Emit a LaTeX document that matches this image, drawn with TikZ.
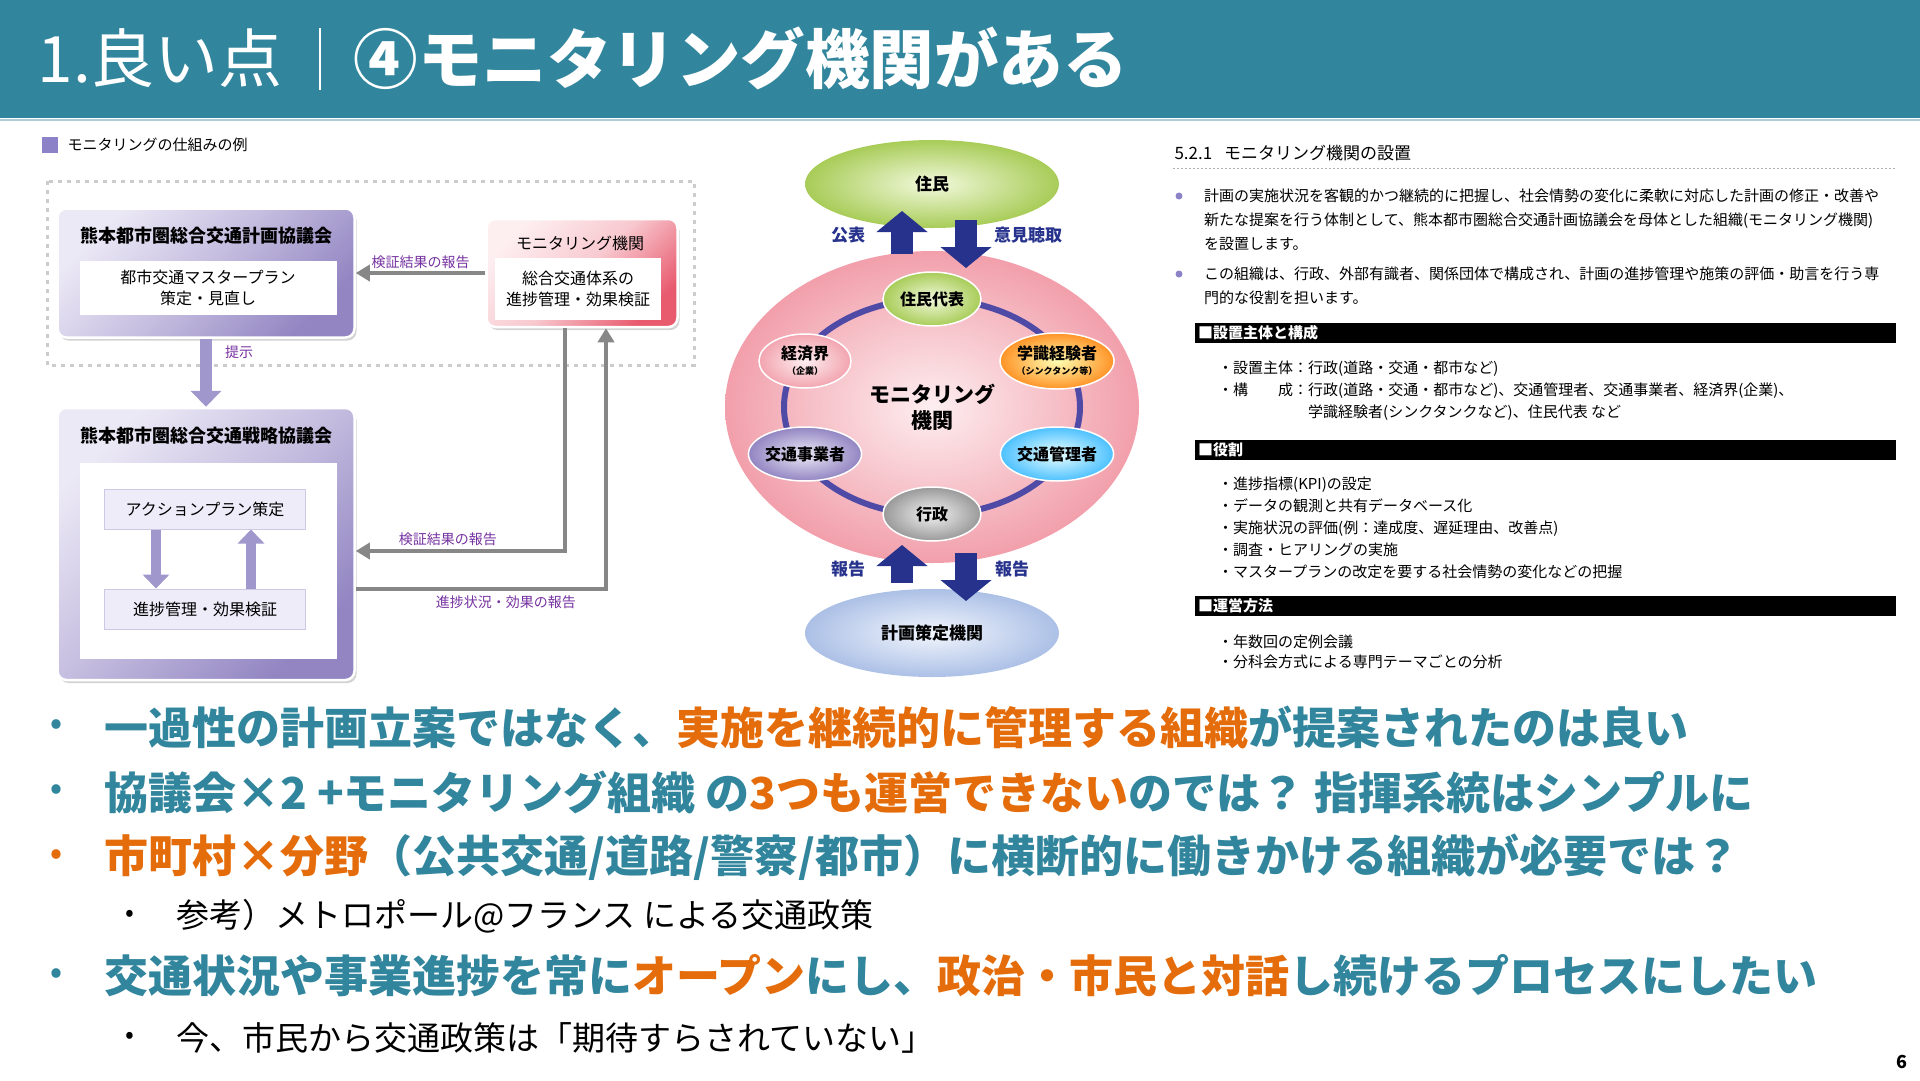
\documentclass[tikz,border=0pt]{standalone}
\usepackage{fontspec}
\setmainfont{Noto Sans CJK JP}
\usetikzlibrary{arrows.meta,shapes.geometric,shadows,positioning}

\definecolor{headteal}{RGB}{49,133,156}
\definecolor{hiorange}{RGB}{228,108,10}
\definecolor{lavlight}{RGB}{236,233,246}
\definecolor{lavdark}{RGB}{146,133,194}
\definecolor{lavarrow}{RGB}{160,152,204}
\definecolor{lavsub}{RGB}{238,236,248}
\definecolor{pinklight}{RGB}{253,238,240}
\definecolor{pinkdark}{RGB}{232,90,110}
\definecolor{labpurple}{RGB}{118,50,160}
\definecolor{navyarrow}{RGB}{38,50,140}
\definecolor{ringblue}{RGB}{78,74,165}
\definecolor{dotpurple}{RGB}{140,130,200}
\definecolor{connectgray}{RGB}{135,135,135}
\definecolor{leafdark}{RGB}{168,204,88}
\definecolor{leaflight}{RGB}{242,249,220}
\definecolor{skydark}{RGB}{172,192,230}
\definecolor{skylight}{RGB}{242,246,253}

\newcommand{\pxsize}[2]{\fontsize{#1}{#2}\selectfont}
\newcommand{\orng}[1]{{\color{hiorange}#1}}

\begin{document}
\begin{tikzpicture}[x=1pt,y=-1pt,
  council/.style={draw=white, line width=2.5pt, rounded corners=9pt,
    top color=lavlight, bottom color=lavdark, middle color=lavlight!55!lavdark, shading angle=45,
    drop shadow={shadow xshift=2pt, shadow yshift=-3pt, opacity=0.35}},
  monitorbox/.style={draw=white, line width=2.5pt, rounded corners=9pt,
    top color=pinklight, bottom color=pinkdark, middle color=pinklight!75!pinkdark, shading angle=45,
    drop shadow={shadow xshift=2pt, shadow yshift=-3pt, opacity=0.35}},
  counciltitle/.style={font=\pxsize{18}{20}\bfseries, inner sep=0pt},
  whitebox/.style={fill=white, align=center, inner sep=0pt, font=\pxsize{16}{21}},
  subbox/.style={fill=lavsub, draw=lavdark!45, line width=1pt, minimum width=201pt, minimum height=40pt, font=\pxsize{16}{20}},
  labtext/.style={text=labpurple, font=\pxsize{14}{16}, inner sep=1pt},
  grayarrow/.style={connectgray, line width=3.5pt, -{Triangle[length=14pt,width=16pt]}},
  lavblock/.style={lavarrow, line width=12pt, -{Triangle[length=16pt,width=30pt]}},
  lavblocksmall/.style={lavarrow, line width=10pt, -{Triangle[length=14pt,width=26pt]}},
  navyblock/.style={navyarrow, line width=22pt, -{Triangle[length=21pt,width=50pt]}},
  navylabel/.style={text=navyarrow, font=\pxsize{17}{19}\bfseries},
  member/.style={ellipse, draw=white, line width=1.5pt, minimum width=98pt, minimum height=54pt,
    inner sep=0pt, align=center, font=\pxsize{16}{17}\bfseries},
  para/.style={anchor=west, align=left, inner sep=0pt, font=\pxsize{15}{24}},
  items/.style={anchor=west, align=left, inner sep=0pt, font=\pxsize{15}{22}},
  blackbar/.style={anchor=west, fill=black, text=white, text width=695pt, align=left,
    minimum height=20pt, inner sep=3pt, font=\pxsize{15}{17}\bfseries},
  bigline/.style={anchor=west, inner sep=0pt, text=headteal, font=\pxsize{44}{50}\bfseries},
  subline/.style={anchor=west, inner sep=0pt, font=\pxsize{33}{38}},
  bigdot/.style={inner sep=0pt, font=\pxsize{30}{30}\bfseries}
]
\useasboundingbox (0,0) rectangle (1920,1080);

% title bar
\fill[headteal] (0,0) rectangle (1920,118);
\draw[headteal!40, line width=2pt] (0,120) -- (1920,120);
\draw (34,58) node [anchor=west, text=white, font=\pxsize{64}{70}] (ttlA) {1.良い点};
\draw[white, line width=1.5pt] (320,28) -- (320,90);
\draw (350,58) node [anchor=west, text=white, font=\pxsize{64.5}{70}\bfseries] (ttlB) {④モニタリング機関がある};

% left: monitoring scheme
\fill[dotpurple] (42,137) rectangle (58,153);
\draw (64,145) node [anchor=west, font=\pxsize{15}{17}] (caption) {モニタリングの仕組みの例};
\draw[gray!40, line width=3pt, dash pattern=on 4pt off 5pt] (47,181) rectangle (694,365);

\draw (206,273) node [council, minimum width=297pt, minimum height=129pt] (keikaku) {};
\draw (206,236) node [counciltitle] (keikakuT) {熊本都市圏総合交通計画協議会};
\draw (208,288) node [whitebox, minimum width=257pt, minimum height=54pt] (plan) {都市交通マスタープラン\\策定・見直し};

\draw (582,273) node [monitorbox, minimum width=191pt, minimum height=108pt] (monitor) {};
\draw (580,243) node [font=\pxsize{16}{18}] (monitorT) {モニタリング機関};
\draw (578,289) node [whitebox, minimum width=166pt, minimum height=62pt] (check) {総合交通体系の\\進捗管理・効果検証};

\draw (206,544) node [council, minimum width=297pt, minimum height=272pt] (senryaku) {};
\draw (206,436) node [counciltitle] (senryakuT) {熊本都市圏総合交通戦略協議会};
\draw (208,561) node [whitebox, minimum width=257pt, minimum height=196pt] (cycle) {};
\draw (205,509) node [subbox] (action) {アクションプラン策定};
\draw (205,609) node [subbox] (progress) {進捗管理・効果検証};

\coordinate (m1) at (565,551);
\coordinate (m2) at (606,589);
\coordinate (a1) at (156,0);
\coordinate (a2) at (251,0);

\draw
  (monitor.west) edge [grayarrow] node [above=2pt, labtext] {検証結果の報告} (keikaku.east)
  (keikaku.south) edge [lavblock] node [right=12pt, pos=0.2, labtext] {提示} (senryaku.north)
  (action.south -| a1) edge [lavblocksmall] (progress.north -| a1)
  (progress.north -| a2) edge [lavblocksmall] (action.south -| a2)
;
\draw[grayarrow] (monitor.south -| m1) |- node [pos=0.78, above=3pt, labtext] {検証結果の報告} (senryaku.east |- m1);
\draw[grayarrow] (senryaku.east |- m2) -| node [pos=0.3, below=4pt, labtext] {進捗状況・効果の報告} (monitor.south -| m2);

% middle: members of the monitoring body
\draw (932,407) node [ellipse, minimum width=414pt, minimum height=312pt, inner color=pinklight, outer color=pinkdark!58,
  align=center, font=\pxsize{21}{26}\bfseries] (kikan) {モニタリング\\機関};
\draw[ringblue, line width=6pt] (kikan.center) ellipse [x radius=148pt, y radius=108pt];

\draw (932,184) node [ellipse, minimum width=254pt, minimum height=88pt, inner color=leaflight, outer color=leafdark,
  font=\pxsize{17}{19}\bfseries] (jumin) {住民};
\draw (932,633) node [ellipse, minimum width=254pt, minimum height=88pt, inner color=skylight, outer color=skydark,
  font=\pxsize{17}{19}\bfseries] (sakutei) {計画策定機関};

\draw (932,299) node [member, inner color=leaflight, outer color=leafdark] (daihyo) {住民代表};
\draw (805,361) node [member, minimum width=92pt, inner color=pinklight, outer color=pinkdark!55] (keizai) {経済界\\[-2pt]{\pxsize{9}{10}（企業）}};
\draw (1057,361) node [member, minimum width=106pt, minimum height=56pt, inner color=yellow!30!white, outer color=orange!85] (gakushiki) {学識経験者\\[-2pt]{\pxsize{9}{10}（シンクタンク等）}};
\draw (805,454) node [member, minimum width=102pt, inner color=lavlight, outer color=lavdark] (jigyo) {交通事業者};
\draw (1057,454) node [member, minimum width=102pt, inner color=cyan!8!white, outer color=cyan!65!blue!70] (kanri) {交通管理者};
\draw (932,514) node [member, inner color=gray!10, outer color=gray!80] (gyosei) {行政};

\coordinate (kohyoA) at (902,254);
\coordinate (kohyoB) at (902,211);
\coordinate (ikenA) at (966,220);
\coordinate (ikenB) at (966,268);
\coordinate (hokokuA) at (902,583);
\coordinate (hokokuB) at (902,545);
\coordinate (hokokuC) at (966,553);
\coordinate (hokokuD) at (966,601);
\draw
  (kohyoA) edge [navyblock] (kohyoB)
  (ikenA) edge [navyblock] (ikenB)
  (hokokuA) edge [navyblock] (hokokuB)
  (hokokuC) edge [navyblock] (hokokuD)
;
\draw (848,235) node [navylabel] (kohyoL) {公表};
\draw (1028,235) node [navylabel] (ikenL) {意見聴取};
\draw (848,569) node [navylabel] (hokokuL) {報告};
\draw (1012,569) node [navylabel] (hokokuR) {報告};

% right: excerpt of the plan
\draw (1171,153) node [anchor=west, font=\pxsize{17}{19}] (secT) {5.2.1\hspace{0.7em}モニタリング機関の設置};
\draw[gray!60, line width=1pt, dash pattern=on 2pt off 2pt] (1173,168) -- (1896,168);

\fill[dotpurple] (1179,196) circle (3.5pt);
\draw (1204,220) node [para] (p1) {計画の実施状況を客観的かつ継続的に把握し、社会情勢の変化に柔軟に対応した計画の修正・改善や\\新たな提案を行う体制として、熊本都市圏総合交通計画協議会を母体とした組織(モニタリング機関)\\を設置します。};
\fill[dotpurple] (1179,274) circle (3.5pt);
\draw (1204,286) node [para] (p2) {この組織は、行政、外部有識者、関係団体で構成され、計画の進捗管理や施策の評価・助言を行う専\\門的な役割を担います。};

\draw (1195,333) node [blackbar] (barA) {■設置主体と構成};
\draw (1218,391) node [items] (itemsA) {・設置主体：行政(道路・交通・都市など)\\・構\hspace{2em}成：行政(道路・交通・都市など)、交通管理者、交通事業者、経済界(企業)、\\\hspace{6em}学識経験者(シンクタンクなど)、住民代表 など};

\draw (1195,450) node [blackbar] (barB) {■役割};
\draw (1218,528) node [items] (itemsB) {・進捗指標(KPI)の設定\\・データの観測と共有データベース化\\・実施状況の評価(例：達成度、遅延理由、改善点)\\・調査・ヒアリングの実施\\・マスタープランの改定を要する社会情勢の変化などの把握};

\draw (1195,606) node [blackbar] (barC) {■運営方法};
\draw (1218,652) node [items, font=\pxsize{15}{20}] (itemsC) {・年数回の定例会議\\・分科会方式による専門テーマごとの分析};

% bottom: comments
\draw (56,727) node [bigdot, text=headteal] (d1) {•};
\draw (104,727) node [bigline] (c1) {一過性の計画立案ではなく、\orng{実施を継続的に管理する組織}が提案されたのは良い};
\draw (56,792) node [bigdot, text=headteal] (d2) {•};
\draw (104,792) node [bigline] (c2) {協議会×2 +モニタリング組織 の\orng{3つも運営できない}のでは？ 指揮系統はシンプルに};
\draw (56,857) node [bigdot, text=hiorange] (d3) {•};
\draw (104,857) node [bigline] (c3) {\orng{市町村×分野}（公共交通/道路/警察/都市）に横断的に働きかける組織が必要では？};
\draw (130,916) node [bigdot, font=\pxsize{26}{26}] (d4) {•};
\draw (176,916) node [subline] (c4) {参考）メトロポール@フランス による交通政策};
\draw (56,976) node [bigdot, text=headteal] (d5) {•};
\draw (104,976) node [bigline] (c5) {交通状況や事業進捗を常に\orng{オープン}にし、\orng{政治・市民と対話}し続けるプロセスにしたい};
\draw (130,1038) node [bigdot, font=\pxsize{26}{26}] (d6) {•};
\draw (176,1038) node [subline] (c6) {今、市民から交通政策は「期待すらされていない」};

\draw (1902,1062) node [font=\pxsize{18}{20}\bfseries] (pageno) {6};
\end{tikzpicture}
\end{document}
